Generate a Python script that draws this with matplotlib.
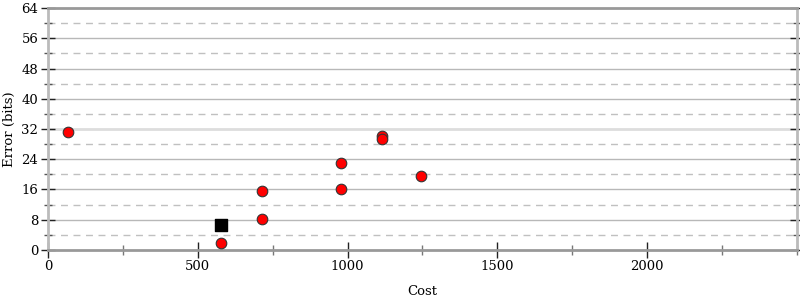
import matplotlib
matplotlib.use("Agg")
import matplotlib.pyplot as plt
from matplotlib.ticker import MultipleLocator

# points
cost = [66, 577, 714, 714, 979, 979, 1116, 1116, 1244]
error = [31.1, 1.9, 15.6, 8.2, 22.9, 16.1, 30.2, 29.4, 19.7]
ref_cost = [577]
ref_error = [6.5]

plt.rcParams['font.family'] = ['DejaVu Serif']
plt.rcParams['font.size'] = 9.5

fig = plt.figure(figsize=(8, 3), dpi=100)
ax = fig.add_axes([0.06, 0.1667, 0.936, 0.8066])

# grid: solid at major, dashed at minor
for y in range(8, 64, 8):
    if y == 32:
        ax.axhline(y, color='#dddddd', lw=2, zorder=1)
    else:
        ax.axhline(y, color='#b8b8b8', lw=1, zorder=1)
for y in range(4, 64, 8):
    ax.axhline(y, color='#c0c0c0', lw=1, ls=(0, (5, 4)), zorder=1)

ax.scatter(cost, error, s=58, c='#ff0000', edgecolors='#333333', linewidths=0.8, zorder=3)
ax.scatter(ref_cost, ref_error, s=68, c='black', marker='s', zorder=3)

ax.set_xlim(0, 2500)
ax.set_ylim(0, 64)
ax.xaxis.set_major_locator(MultipleLocator(500))
ax.xaxis.set_minor_locator(MultipleLocator(250))
ax.yaxis.set_major_locator(MultipleLocator(8))
ax.yaxis.set_minor_locator(MultipleLocator(4))
ax.set_xticks([0, 500, 1000, 1500, 2000])

ax.tick_params(axis='y', which='major', direction='inout', length=10, width=1,
               color='#222222', right=True, pad=2)
ax.tick_params(axis='y', which='minor', direction='inout', length=6, width=1,
               color='#555555', right=True)
ax.tick_params(axis='x', which='major', direction='inout', length=12, width=1,
               color='#222222', pad=1)
ax.tick_params(axis='x', which='minor', direction='inout', length=7, width=1,
               color='#777777')

ax.spines['left'].set_color('#bbbbbb')
ax.spines['right'].set_color('#bbbbbb')
ax.spines['bottom'].set_color('#999999')
ax.spines['top'].set_color('#999999')
for s in ax.spines.values():
    s.set_linewidth(2)

ax.set_xlabel('Cost', labelpad=9)
ax.set_ylabel('Error (bits)', labelpad=4)

fig.savefig('out.png', dpi=100)
